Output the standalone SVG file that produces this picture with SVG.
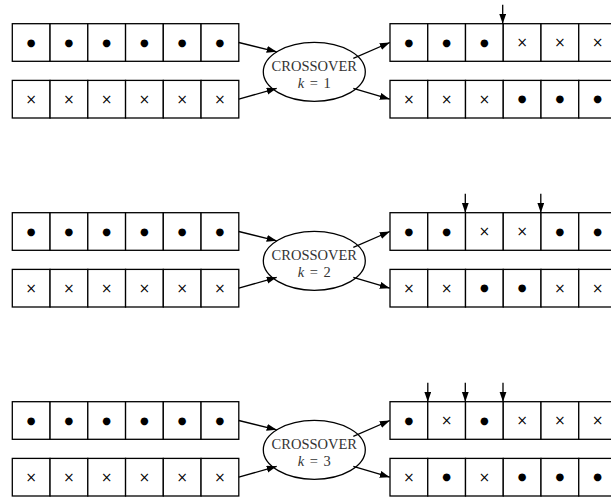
<svg xmlns="http://www.w3.org/2000/svg" width="611" height="497" viewBox="0 0 611 497">
<style>
.cell{fill:#fff;stroke:#000;stroke-width:1.3}
.el{fill:#fff;stroke:#000;stroke-width:1.3}
.lbl{font-family:"Liberation Serif",serif;font-size:14.5px;fill:#333;text-anchor:middle}
.k{word-spacing:2px}
.dot{font-family:"DejaVu Sans",sans-serif;font-size:10px;fill:#000;text-anchor:middle}
.x{font-family:"DejaVu Sans",sans-serif;font-size:13.5px;fill:#000;text-anchor:middle}
.edge{fill:none;stroke:#000;stroke-width:1.3;marker-end:url(#ah)}
</style>
<defs>
<marker id="ah" markerUnits="userSpaceOnUse" markerWidth="11" markerHeight="8" refX="10" refY="3.5" orient="auto">
<path d="M0,0 L10,3.5 L0,7 z" fill="#000"/>
</marker>
<g id="cells">
<rect class="cell" x="0" y="0" width="37.75" height="37.6"/>
<rect class="cell" x="37.75" y="0" width="37.75" height="37.6"/>
<rect class="cell" x="75.5" y="0" width="37.75" height="37.6"/>
<rect class="cell" x="113.25" y="0" width="37.75" height="37.6"/>
<rect class="cell" x="151" y="0" width="37.75" height="37.6"/>
<rect class="cell" x="188.75" y="0" width="37.75" height="37.6"/>
</g>
</defs>

<!-- Block k=1 -->
<g id="block1">
<g id="parent1a" transform="translate(12.3,23.7)">
<use href="#cells"/>
<text class="dot" x="18.9" y="22">●</text><text class="dot" x="56.6" y="22">●</text><text class="dot" x="94.4" y="22">●</text><text class="dot" x="132.1" y="22">●</text><text class="dot" x="169.9" y="22">●</text><text class="dot" x="207.6" y="22">●</text>
</g>
<g id="parent1b" transform="translate(12.3,80.4)">
<use href="#cells"/>
<text class="x" x="18.9" y="23.5">×</text><text class="x" x="56.6" y="23.5">×</text><text class="x" x="94.4" y="23.5">×</text><text class="x" x="132.1" y="23.5">×</text><text class="x" x="169.9" y="23.5">×</text><text class="x" x="207.6" y="23.5">×</text>
</g>
<g id="cross1">
<ellipse class="el" cx="314.3" cy="71.8" rx="51" ry="29.5"/>
<text class="lbl" x="314.3" y="71">CROSSOVER</text>
<text class="lbl k" x="314.3" y="87.7"><tspan font-style="italic">k</tspan> = 1</text>
</g>
<g id="child1a" transform="translate(390,23.7)">
<use href="#cells"/>
<text class="dot" x="18.9" y="22">●</text><text class="dot" x="56.6" y="22">●</text><text class="dot" x="94.4" y="22">●</text><text class="x" x="132.1" y="23.5">×</text><text class="x" x="169.9" y="23.5">×</text><text class="x" x="207.6" y="23.5">×</text>
</g>
<g id="child1b" transform="translate(390,80.4)">
<use href="#cells"/>
<text class="x" x="18.9" y="23.5">×</text><text class="x" x="56.6" y="23.5">×</text><text class="x" x="94.4" y="23.5">×</text><text class="dot" x="132.1" y="22">●</text><text class="dot" x="169.9" y="22">●</text><text class="dot" x="207.6" y="22">●</text>
</g>
</g>

<!-- Block k=2 -->
<g id="block2">
<g id="parent2a" transform="translate(12.3,212.7)">
<use href="#cells"/>
<text class="dot" x="18.9" y="22">●</text><text class="dot" x="56.6" y="22">●</text><text class="dot" x="94.4" y="22">●</text><text class="dot" x="132.1" y="22">●</text><text class="dot" x="169.9" y="22">●</text><text class="dot" x="207.6" y="22">●</text>
</g>
<g id="parent2b" transform="translate(12.3,269.4)">
<use href="#cells"/>
<text class="x" x="18.9" y="23.5">×</text><text class="x" x="56.6" y="23.5">×</text><text class="x" x="94.4" y="23.5">×</text><text class="x" x="132.1" y="23.5">×</text><text class="x" x="169.9" y="23.5">×</text><text class="x" x="207.6" y="23.5">×</text>
</g>
<g id="cross2">
<ellipse class="el" cx="314.3" cy="260.8" rx="51" ry="29.5"/>
<text class="lbl" x="314.3" y="260">CROSSOVER</text>
<text class="lbl k" x="314.3" y="276.7"><tspan font-style="italic">k</tspan> = 2</text>
</g>
<g id="child2a" transform="translate(390,212.7)">
<use href="#cells"/>
<text class="dot" x="18.9" y="22">●</text><text class="dot" x="56.6" y="22">●</text><text class="x" x="94.4" y="23.5">×</text><text class="x" x="132.1" y="23.5">×</text><text class="dot" x="169.9" y="22">●</text><text class="dot" x="207.6" y="22">●</text>
</g>
<g id="child2b" transform="translate(390,269.4)">
<use href="#cells"/>
<text class="x" x="18.9" y="23.5">×</text><text class="x" x="56.6" y="23.5">×</text><text class="dot" x="94.4" y="22">●</text><text class="dot" x="132.1" y="22">●</text><text class="x" x="169.9" y="23.5">×</text><text class="x" x="207.6" y="23.5">×</text>
</g>
</g>

<!-- Block k=3 -->
<g id="block3">
<g id="parent3a" transform="translate(12.3,401.7)">
<use href="#cells"/>
<text class="dot" x="18.9" y="22">●</text><text class="dot" x="56.6" y="22">●</text><text class="dot" x="94.4" y="22">●</text><text class="dot" x="132.1" y="22">●</text><text class="dot" x="169.9" y="22">●</text><text class="dot" x="207.6" y="22">●</text>
</g>
<g id="parent3b" transform="translate(12.3,458.4)">
<use href="#cells"/>
<text class="x" x="18.9" y="23.5">×</text><text class="x" x="56.6" y="23.5">×</text><text class="x" x="94.4" y="23.5">×</text><text class="x" x="132.1" y="23.5">×</text><text class="x" x="169.9" y="23.5">×</text><text class="x" x="207.6" y="23.5">×</text>
</g>
<g id="cross3">
<ellipse class="el" cx="314.3" cy="449.8" rx="51" ry="29.5"/>
<text class="lbl" x="314.3" y="449">CROSSOVER</text>
<text class="lbl k" x="314.3" y="465.7"><tspan font-style="italic">k</tspan> = 3</text>
</g>
<g id="child3a" transform="translate(390,401.7)">
<use href="#cells"/>
<text class="dot" x="18.9" y="22">●</text><text class="x" x="56.6" y="23.5">×</text><text class="dot" x="94.4" y="22">●</text><text class="x" x="132.1" y="23.5">×</text><text class="x" x="169.9" y="23.5">×</text><text class="x" x="207.6" y="23.5">×</text>
</g>
<g id="child3b" transform="translate(390,458.4)">
<use href="#cells"/>
<text class="x" x="18.9" y="23.5">×</text><text class="dot" x="56.6" y="22">●</text><text class="x" x="94.4" y="23.5">×</text><text class="dot" x="132.1" y="22">●</text><text class="dot" x="169.9" y="22">●</text><text class="dot" x="207.6" y="22">●</text>
</g>
</g>

<g id="connectors">
<path class="edge" d="M238.8,42.5 L276.7,51.8"/>
<path class="edge" d="M238.8,99.2 L276.7,88.3"/>
<path class="edge" d="M353.3,58.3 L389.8,42.5"/>
<path class="edge" d="M353.3,88.3 L389.8,99.2"/>
<path class="edge" d="M502.7,4.7 L502.7,23.7"/>

<path class="edge" d="M238.8,231.5 L276.7,240.8"/>
<path class="edge" d="M238.8,288.2 L276.7,277.3"/>
<path class="edge" d="M353.3,247.3 L389.8,231.5"/>
<path class="edge" d="M353.3,277.3 L389.8,288.2"/>
<path class="edge" d="M465.3,193.7 L465.3,212.7"/>
<path class="edge" d="M540.8,193.7 L540.8,212.7"/>

<path class="edge" d="M238.8,420.5 L276.7,429.8"/>
<path class="edge" d="M238.8,477.2 L276.7,466.3"/>
<path class="edge" d="M353.3,436.3 L389.8,420.5"/>
<path class="edge" d="M353.3,466.3 L389.8,477.2"/>
<path class="edge" d="M427.8,382.7 L427.8,401.7"/>
<path class="edge" d="M465.3,382.7 L465.3,401.7"/>
<path class="edge" d="M503,382.7 L503,401.7"/>
</g>
</svg>
